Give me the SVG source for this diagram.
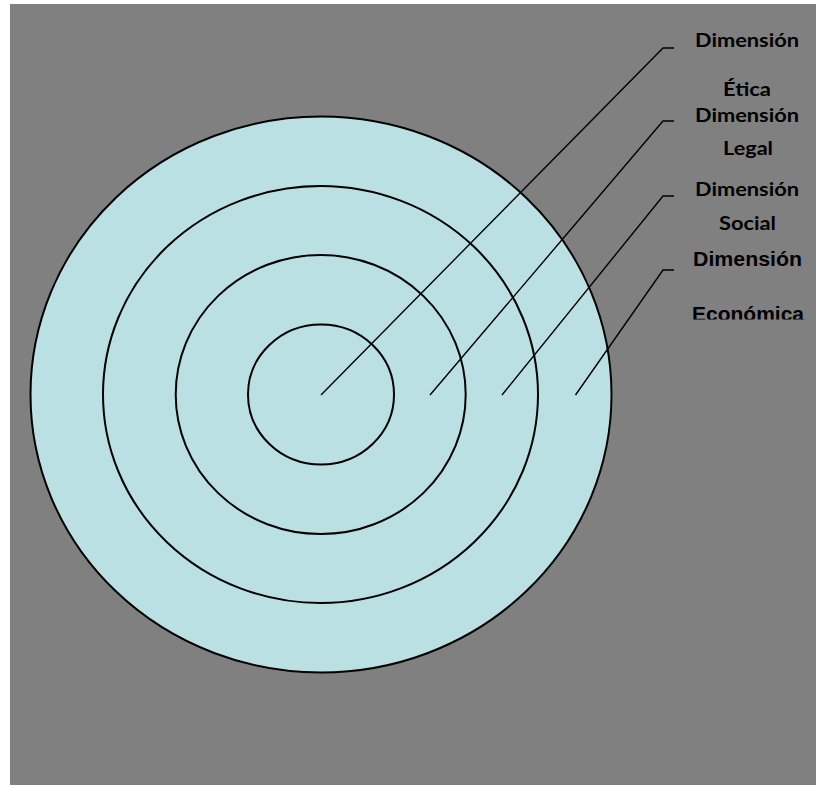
<svg xmlns="http://www.w3.org/2000/svg" width="816" height="785" viewBox="0 0 816 785">
<style>
.ring{fill:#BBE0E3;stroke:#000;stroke-width:2}
.lead{fill:none;stroke:#000;stroke-width:1.4}
.lbl{font-family:Lato,"Open Sans","Liberation Sans",sans-serif;font-weight:bold;font-size:18.5px;fill:#000;text-anchor:middle}
.lbl2{font-family:"Liberation Sans",Arial,sans-serif;font-weight:bold;font-size:19.5px;fill:#000;text-anchor:middle}
</style>
<defs>
<clipPath id="clipEco"><rect x="660" y="290" width="156" height="29.5"/></clipPath>
</defs>
<rect x="10" y="4" width="806" height="781" fill="#808080"/>
<g id="ring-economica"><ellipse class="ring" cx="321" cy="394.5" rx="290.5" ry="278"/></g>
<g id="ring-social"><ellipse class="ring" cx="320.5" cy="394.5" rx="217.5" ry="208.5"/></g>
<g id="ring-legal"><ellipse class="ring" cx="320.7" cy="394.5" rx="145" ry="139.5"/></g>
<g id="ring-etica"><ellipse class="ring" cx="321" cy="394.5" rx="73" ry="70"/></g>
<g id="connectors">
<polyline class="lead" points="321,395 663,48 674,48"/>
<polyline class="lead" points="430,395 663,121 674,121"/>
<polyline class="lead" points="502,395 663,196 674,196"/>
<polyline class="lead" points="575.5,395 663,270 674,270"/>
</g>
<g id="label-etica">
<text class="lbl" x="747" y="47" textLength="104" lengthAdjust="spacingAndGlyphs">Dimensión</text>
<text class="lbl" x="747" y="96" textLength="48" lengthAdjust="spacingAndGlyphs">Ética</text>
</g>
<g id="label-legal">
<text class="lbl" x="747" y="122" textLength="104" lengthAdjust="spacingAndGlyphs">Dimensión</text>
<text class="lbl" x="748" y="155" textLength="50" lengthAdjust="spacingAndGlyphs">Legal</text>
</g>
<g id="label-social">
<text class="lbl" x="747" y="196" textLength="104" lengthAdjust="spacingAndGlyphs">Dimensión</text>
<text class="lbl" x="747.5" y="230" textLength="57" lengthAdjust="spacingAndGlyphs">Social</text>
</g>
<g id="label-economica">
<text class="lbl2" x="747.5" y="266" textLength="109" lengthAdjust="spacingAndGlyphs">Dimensión</text>
<text class="lbl2" x="748" y="321" textLength="112" lengthAdjust="spacingAndGlyphs" clip-path="url(#clipEco)">Económica</text>
</g>
</svg>
